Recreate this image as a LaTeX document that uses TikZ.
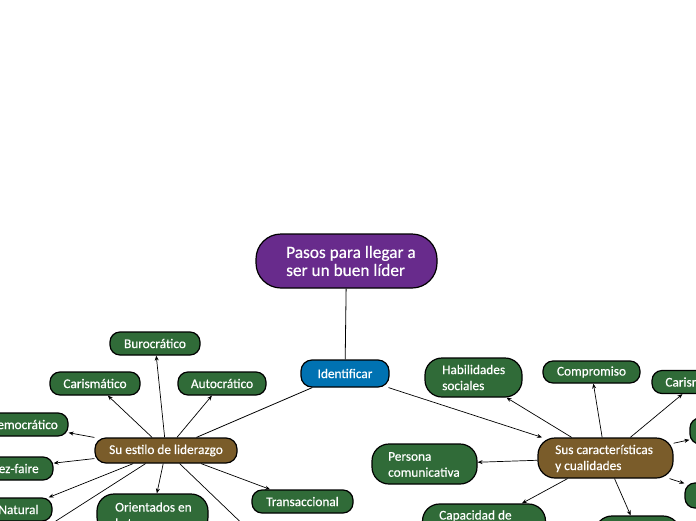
\documentclass[tikz,border=0pt]{standalone}
\usepackage{fontspec}
\setmainfont{Carlito}[BoldFont=Carlito,BoldFeatures={FakeBold=0.45}]
\usetikzlibrary{arrows.meta}
\definecolor{rootpurple}{RGB}{104,43,140}
\definecolor{identblue}{RGB}{0,114,178}
\definecolor{midbrown}{RGB}{122,92,42}
\definecolor{leafgreen}{RGB}{48,107,56}
\begin{document}
\begin{tikzpicture}[x=1pt,y=-1pt,
  box/.style={draw=black, line width=1.2pt, text=white, inner sep=0pt,
    font=\fontsize{13.3}{16}\selectfont\bfseries},
  rootbox/.style={box, fill=rootpurple, rounded corners=25pt},
  identbox/.style={box, fill=identblue, rounded corners=11pt},
  brownbox/.style={box, fill=midbrown, rounded corners=11pt},
  leaf/.style={box, fill=leafgreen, rounded corners=10pt},
  leaftwo/.style={box, fill=leafgreen, rounded corners=17pt},
  brtwo/.style={box, fill=midbrown, rounded corners=17pt},
  txt/.style={text=white, inner sep=0pt, align=left, anchor=west,
    font=\fontsize{13.3}{16}\selectfont\bfseries},
  roottxt/.style={txt, font=\fontsize{17.3}{18}\selectfont\bfseries},
  arr/.style={-{Stealth[length=5pt,width=4pt]}, line width=0.7pt},
  plain/.style={line width=0.8pt}
]
\useasboundingbox (0,0) rectangle (696,520);
\clip (0,0) rectangle (696,520);

% root and first level
\node[rootbox, minimum width=181pt, minimum height=54pt] (root) at (346.5,261) {};
\node[roottxt] (roottext) at (286,261) {Pasos para llegar a\\ser un buen líder};
\node[identbox, minimum width=88pt, minimum height=27pt] (ident) at (345,373.5) {Identificar};

% left branch
\node[brownbox, minimum width=142pt, minimum height=25pt] (estilo) at (166,450.5) {Su estilo de liderazgo};
\node[leaf, minimum width=90pt, minimum height=23pt] (buro) at (155,343.5) {Burocrático};
\node[leaf, minimum width=90pt, minimum height=23pt] (carL) at (95,383.5) {Carismático};
\node[leaf, minimum width=88pt, minimum height=23pt] (auto) at (222,383.5) {Autocrático};
\node[leaf, minimum width=89pt, minimum height=23pt] (demo) at (23.5,424.5) {Democrático};
\node[leaf, minimum width=94pt, minimum height=23pt] (laissez) at (6,468.5) {Laissez-faire};
\node[leaf, minimum width=67pt, minimum height=23pt] (natural) at (18.5,509.5) {Natural};
\node[leaftwo, minimum width=111pt, minimum height=40pt] (orient) at (152.5,514) {};
\node[txt] (orienttext) at (115,515) {Orientados en\\la tarea};
\node[leaf, minimum width=101pt, minimum height=23pt] (trans) at (302.5,501.5) {Transaccional};
\coordinate (hidL) at (20,544);
\coordinate (hidR) at (280,560);

% right branch
\node[brtwo, minimum width=135pt, minimum height=40pt] (car) at (605.5,458) {};
\node[txt] (cartext) at (555,458.5) {Sus características\\y cualidades};
\node[leaftwo, minimum width=97pt, minimum height=39pt] (hab) at (473.5,377.5) {};
\node[txt] (habtext) at (442,377.5) {Habilidades\\sociales};
\node[leaf, minimum width=97pt, minimum height=22pt] (comp) at (591.5,372) {Compromiso};
\node[leaf, minimum width=90pt, minimum height=23pt] (carR) at (697,382) {Carismático};
\node[leaf, minimum width=80pt, minimum height=26pt] (rn2) at (730,431) {};
\node[leaf, minimum width=74pt, minimum height=25pt] (rn3) at (722,495.5) {};
\node[leaftwo, minimum width=105pt, minimum height=40pt] (pers) at (424.5,464) {};
\node[txt] (perstext) at (388,464.5) {Persona\\comunicativa};
\node[leaftwo, minimum width=123pt, minimum height=40pt] (capa) at (484,524) {};
\node[txt, anchor=base west] (capatext) at (439,519.5) {Capacidad de};
\node[leaftwo, minimum width=85pt, minimum height=30pt] (bot) at (637.5,531) {};

% connectors
\draw[plain] (root) -- (ident);
\draw[plain] (ident) -- (estilo);
\draw[arr] (ident) -- (car);

\draw[arr] (estilo) -- (buro);
\draw[arr] (estilo) -- (carL);
\draw[arr] (estilo) -- (auto);
\draw[arr] (estilo) -- (demo);
\draw[arr] (estilo) -- (laissez);
\draw[arr] (estilo) -- (natural);
\draw[arr] (estilo) -- (orient);
\draw[arr] (estilo) -- (trans);
\draw[arr] (estilo) -- (hidL);
\draw[arr] (estilo) -- (hidR);

\draw[arr] (car) -- (hab);
\draw[arr] (car) -- (comp);
\draw[arr] (car) -- (carR);
\draw[arr] (car) -- (rn2);
\draw[arr] (car) -- (rn3);
\draw[arr] (car) -- (pers);
\draw[arr] (car) -- (capa);
\draw[arr] (car) -- (bot);
\end{tikzpicture}
\end{document}
